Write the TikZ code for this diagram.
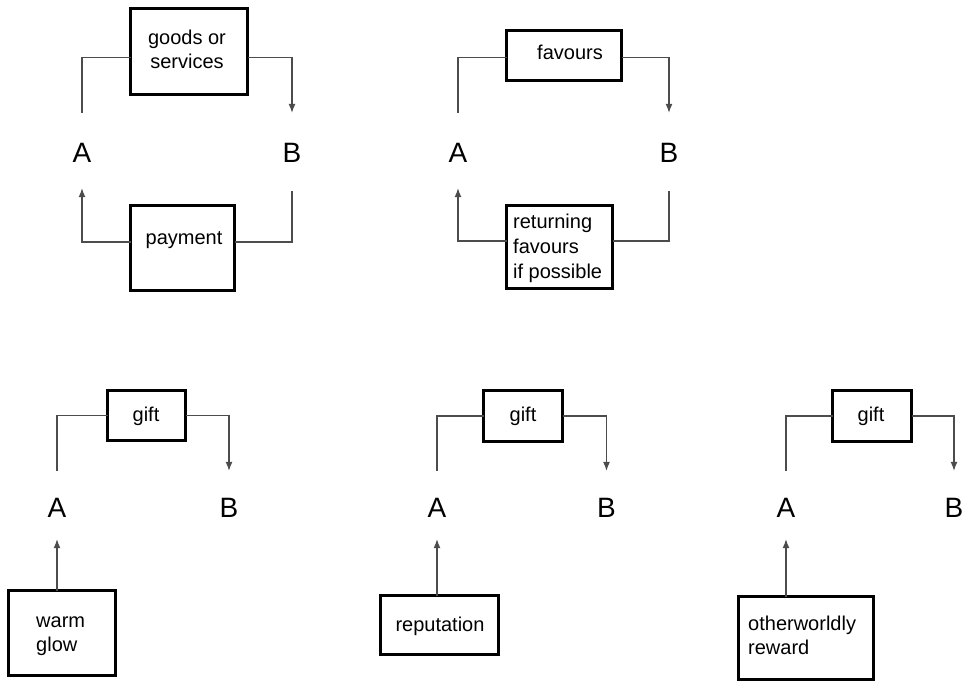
\documentclass[tikz,border=0pt]{standalone}
\usepackage{fontspec}
\setmainfont{Liberation Sans}
\usetikzlibrary{arrows.meta}
\begin{document}
\begin{tikzpicture}[x=1pt,y=-1pt,
  box/.style={draw, line width=2.8pt, inner sep=0pt, outer sep=0pt},
  lbl/.style={font=\fontsize{20}{24}\selectfont, inner sep=0pt},
  abtop/.style={font=\fontsize{28}{32}\selectfont, inner sep=0pt, text height=49pt, text depth=26pt, anchor=base},
  abbot/.style={font=\fontsize{28}{32}\selectfont, inner sep=0pt, text height=46pt, text depth=22pt, anchor=base},
  conn/.style={line width=1.1pt, draw=black!70},
  arr/.style={conn, -{Latex[length=9pt,width=7pt]}}]
\useasboundingbox (0,0) rectangle (963,683);

% ---------- diagram 1 ----------
\node[box, minimum width=117pt, minimum height=86pt] (g1) at (189,51.5) {};
\node[lbl, align=center] (t1) at (187,49) {goods or\\services};
\node[box, minimum width=104pt, minimum height=85pt] (p1) at (182.5,248) {};
\node[lbl] (t1b) at (184,240) {payment};
\node[abtop] (A1) at (82,162) {A};
\node[abtop] (B1) at (292,162) {B};
\draw[conn] ([yshift=-6pt]g1.west) -| (A1.north);
\draw[arr] ([yshift=-6pt]g1.east) -| (B1.north);
\draw[arr] ([yshift=6pt]p1.west) -| (A1.south);
\draw[conn] ([yshift=6pt]p1.east) -| ([yshift=-3pt]B1.south);

% ---------- diagram 2 ----------
\node[box, minimum width=115pt, minimum height=50pt] (f2) at (564,55.5) {};
\node[lbl] (t2) at (570,52) {favours};
\node[box, minimum width=106pt, minimum height=83pt] (r2) at (559.5,247) {};
\node[lbl, align=left, anchor=west, font=\fontsize{20}{25}\selectfont] (t2b) at (513,248) {returning\\favours\\if possible};
\node[abtop] (A2) at (458,162) {A};
\node[abtop] (B2) at (669,162) {B};
\draw[conn] ([yshift=-2pt]f2.west) -| (A2.north);
\draw[arr] ([yshift=-2pt]f2.east) -| (B2.north);
\draw[arr] ([yshift=6pt]r2.west) -| (A2.south);
\draw[conn] ([yshift=6pt]r2.east) -| ([yshift=-3pt]B2.south);

% ---------- diagram 3 ----------
\node[box, minimum width=78pt, minimum height=50pt] (g3) at (146.5,415.5) {};
\node[lbl] (t3) at (146,416) {gift};
\node[abbot] (A3) at (57,517) {A};
\node[abbot] (B3) at (229,517) {B};
\node[box, minimum width=107pt, minimum height=85pt] (w3) at (62,633) {};
\node[lbl, align=left, anchor=west] (t3b) at (36,636) {warm\\glow};
\draw[conn] (g3.west) -| (A3.north);
\draw[arr] (g3.east) -| (B3.north);
\draw[arr] (A3.south |- w3.north) -- (A3.south);

% ---------- diagram 4 ----------
\node[box, minimum width=79pt, minimum height=51pt] (g4) at (523,416) {};
\node[lbl] (t4) at (523,416) {gift};
\node[abbot] (A4) at (437,517) {A};
\node[abbot] (B4) at (606.5,517) {B};
\node[box, minimum width=118pt, minimum height=59pt] (r4) at (439.5,625) {};
\node[lbl] (t4b) at (440,626) {reputation};
\draw[conn] (g4.west) -| (A4.north);
\draw[arr] (g4.east) -| (B4.north);
\draw[arr] (A4.south |- r4.north) -- (A4.south);

% ---------- diagram 5 ----------
\node[box, minimum width=79pt, minimum height=51pt] (g5) at (872,416) {};
\node[lbl] (t5) at (871,416) {gift};
\node[abbot] (A5) at (786,517) {A};
\node[abbot] (B5) at (954,517) {B};
\node[box, minimum width=135pt, minimum height=83pt] (o5) at (806,638) {};
\node[lbl, align=left, anchor=west] (t5b) at (748,635) {otherworldly\\reward};
\draw[conn] (g5.west) -| (A5.north);
\draw[arr] (g5.east) -| (B5.north);
\draw[arr] (A5.south |- o5.north) -- (A5.south);
\end{tikzpicture}
\end{document}
